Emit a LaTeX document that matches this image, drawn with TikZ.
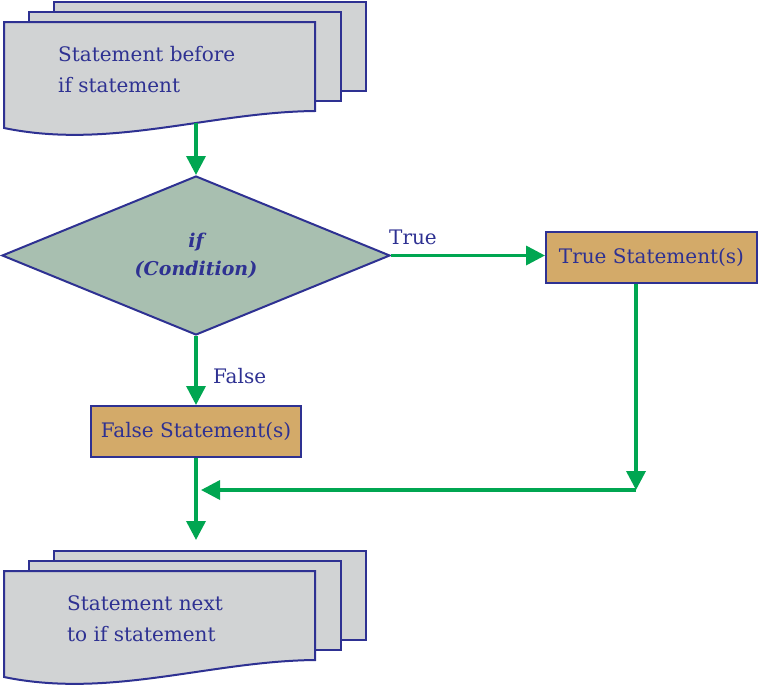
\documentclass[tikz,border=0pt]{standalone}
\usepackage{fontspec}
\setmainfont{DejaVu Serif}
\usetikzlibrary{arrows.meta,shapes.geometric}
\definecolor{inkblue}{HTML}{2E3192}
\definecolor{flowgreen}{HTML}{00A651}
\definecolor{sheetgray}{HTML}{D1D3D4}
\definecolor{condgray}{HTML}{A8BFB0}
\definecolor{stmttan}{HTML}{D3AA69}
\tikzset{
  sheet/.style={fill=sheetgray, draw=inkblue, line width=2pt},
  flow/.style={draw=flowgreen, line width=3.5pt, -{Triangle[length=19pt,width=19pt]}},
  stmt/.style={fill=stmttan, draw=inkblue, line width=2pt, minimum width=211pt, minimum height=51pt, inner sep=0pt, text=inkblue, font=\fontsize{20}{24}\selectfont},
  lbl/.style={text=inkblue, inner sep=0pt, font=\fontsize{20}{24}\selectfont},
  doctext/.style={text=inkblue, inner sep=0pt, align=left, font=\fontsize{20}{31}\selectfont}
}
\def\docstack(#1,#2){\begin{scope}[shift={(#1,#2)}]
  \draw[sheet] (50,-20) rectangle (362,69);
  \draw[sheet] (25,-10) rectangle (337,79);
  \draw[sheet] (0,0) -- (311,0) -- (311,89) .. controls (206,90) and (106,128) .. (0,106) -- cycle;
\end{scope}}

\begin{document}
\begin{tikzpicture}[x=1pt,y=-1pt]
  %%%%% START %%%%%
  \useasboundingbox (0,0) rectangle (759,688);

  % statement before
  \docstack(4,22)
  \node[doctext, anchor=north west] (before) at (58,46) {Statement before\\if statement};
  \coordinate (beforeout) at (196,123);

  % condition and branches
  \node[shape=diamond, aspect=2.44, fill=condgray, draw=inkblue, line width=2pt, minimum width=388pt, minimum height=159pt, inner sep=0pt, text=inkblue, align=center, font=\fontsize{19}{28}\selectfont\bfseries\itshape] (cond) at (196,255.5) {if\\(Condition)};
  \node[stmt] (tstmt) at (651.5,257) {True Statement(s)};
  \node[stmt, minimum width=210pt] (fstmt) at (196,431.5) {False Statement(s)};
  \coordinate (corner) at (636,490);
  \coordinate (join) at (201,490);
  \coordinate (nextin) at (196,540);

  \draw[flow] (beforeout) -- (cond.north);
  \draw[flow] (cond.east) -- (cond.east -| tstmt.west);
  \node[lbl, anchor=base west] (ltrue) at (389,244) {True};
  \draw[flow] (cond.south) -- (fstmt.north);
  \node[lbl, anchor=base west] (lfalse) at (213,383) {False};
  \draw[flow] (tstmt.south -| corner) -- (corner);
  \draw[flow] (corner) -- (join);
  \draw[flow] (fstmt.south) -- (nextin);

  % statement next
  \docstack(4,571)
  \node[doctext, anchor=north west] (next) at (67,595) {Statement next\\to if statement};
  %%%%% END %%%%%
\end{tikzpicture}
\end{document}
